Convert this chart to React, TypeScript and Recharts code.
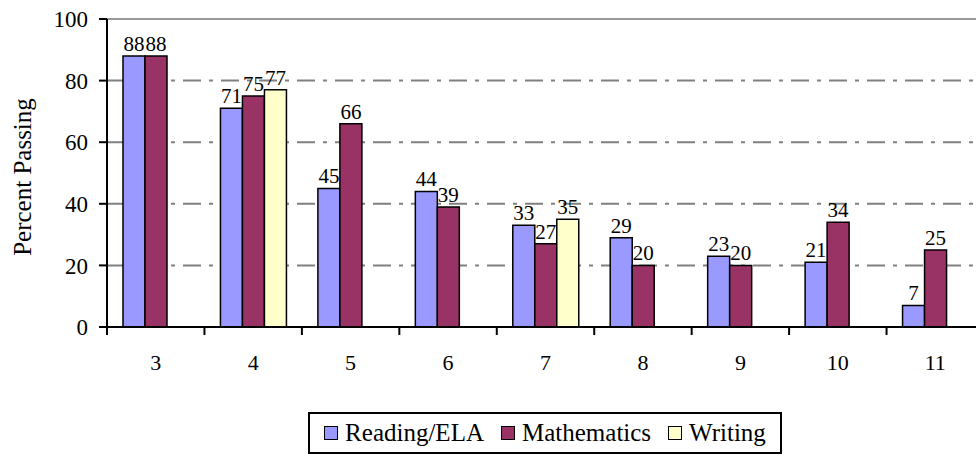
import React from "react";
import {
  BarChart,
  Bar,
  XAxis,
  YAxis,
  CartesianGrid,
  ReferenceLine,
  LabelList,
} from "recharts";

const grades = ["3", "4", "5", "6", "7", "8", "9", "10", "11"];
const reading = [88, 71, 45, 44, 33, 29, 23, 21, 7];
const mathematics = [88, 75, 66, 39, 27, 20, 20, 34, 25];
const writing = [null, 77, null, null, 35, null, null, null, null];
const yTicks = [0, 20, 40, 60, 80, 100];

const series = [
  { key: "reading", name: "Reading/ELA", color: "#9999FF" },
  { key: "math", name: "Mathematics", color: "#993366" },
  { key: "writing", name: "Writing", color: "#FFFFCC" },
];

const data = grades.map((g, i) => ({
  grade: g,
  reading: reading[i],
  math: mathematics[i],
  writing: writing[i],
}));

const FONT = "'Liberation Serif', 'Times New Roman', serif";
const CHART_W = 1000;
const CHART_H = 458;
const PLOT_LEFT = 107;
const PLOT_RIGHT = 984;
const HALF_BAND = (PLOT_RIGHT - PLOT_LEFT) / grades.length / 2;

function GradeTick(props: any) {
  const { x, y, payload } = props;
  const bx = x - HALF_BAND;
  return (
    <g>
      <line x1={bx} y1={y} x2={bx} y2={y + 8} stroke="#000" strokeWidth={2} />
      <text
        x={x}
        y={y + 43}
        textAnchor="middle"
        fill="#000"
        style={{ fontFamily: FONT, fontSize: 22 }}
      >
        {payload.value}
      </text>
    </g>
  );
}

function LegendBox() {
  return (
    <div
      style={{
        position: "absolute",
        left: 308,
        top: 412,
        width: 474,
        height: 42,
        boxSizing: "border-box",
        border: "2px solid #000",
        display: "flex",
        alignItems: "center",
        justifyContent: "center",
        gap: 17,
        fontSize: 25,
        fontFamily: FONT,
        background: "#fff",
      }}
    >
      {series.map((s) => (
        <div key={s.key} style={{ display: "flex", alignItems: "center" }}>
          <span
            style={{
              display: "inline-block",
              width: 14,
              height: 14,
              boxSizing: "border-box",
              border: "1.5px solid #000",
              background: s.color,
              marginRight: 7,
            }}
          />
          <span>{s.name}</span>
        </div>
      ))}
    </div>
  );
}

export default function App() {
  return (
    <div
      style={{
        position: "absolute",
        left: 0,
        top: 0,
        width: 976,
        height: 458,
        overflow: "hidden",
        background: "#fff",
        fontFamily: FONT,
      }}
    >
      <BarChart
        width={CHART_W}
        height={CHART_H}
        data={data}
        margin={{ top: 19, right: CHART_W - PLOT_RIGHT, bottom: 71, left: 0 }}
        barCategoryGap={16}
        barGap={0}
        style={{ fontFamily: FONT }}
      >
        <CartesianGrid
          vertical={false}
          stroke="#808080"
          strokeWidth={2}
          strokeDasharray="18 8 4 8"
        />
        <ReferenceLine y={100} stroke="#999" strokeWidth={2} />
        <XAxis
          dataKey="grade"
          height={60}
          interval={0}
          tickLine={false}
          tickSize={0}
          tickMargin={0}
          axisLine={{ stroke: "#000", strokeWidth: 2 }}
          tick={<GradeTick />}
        />
        <YAxis
          width={PLOT_LEFT}
          domain={[0, 100]}
          ticks={yTicks}
          interval={0}
          tickSize={8}
          tickMargin={11}
          tickLine={{ stroke: "#000", strokeWidth: 2 }}
          axisLine={{ stroke: "#000", strokeWidth: 2 }}
          tick={{ fill: "#000", fontSize: 23, style: { fontFamily: FONT } }}
          label={{
            value: "Percent Passing",
            angle: -90,
            position: "insideLeft",
            dx: 17,
            dy: 4,
            style: { textAnchor: "middle", fill: "#000", fontSize: 25, fontFamily: FONT },
          }}
        />
        {series.map((s) => (
          <Bar
            key={s.key}
            dataKey={s.key}
            name={s.name}
            fill={s.color}
            stroke="#000"
            strokeWidth={1.5}
            isAnimationActive={false}
          >
            <LabelList
              dataKey={s.key}
              position="top"
              offset={5}
              style={{ fill: "#000", fontSize: 21, fontFamily: FONT }}
            />
          </Bar>
        ))}
      </BarChart>
      <LegendBox />
    </div>
  );
}
